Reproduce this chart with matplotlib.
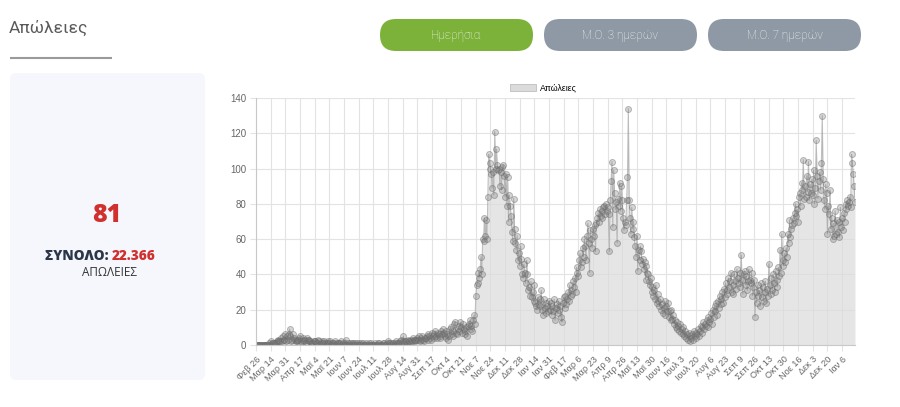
import numpy as np
import matplotlib
matplotlib.use("Agg")
import matplotlib.pyplot as plt
from matplotlib.patches import FancyBboxPatch, Rectangle

# ---------------------------------------------------------------------------
# Daily deaths, one list per month
# ---------------------------------------------------------------------------
deaths_2020_02 = [0, 0, 0, 0]
deaths_2020_03 = [0, 0, 0, 0, 0, 0, 0, 0, 0, 0, 0, 1, 0, 2, 1, 0, 1, 1, 1, 1,
                  2, 3, 2, 2, 2, 4, 2, 5, 3, 3, 6]
deaths_2020_04 = [2, 5, 3, 6, 9, 5, 2, 3, 6, 4, 3, 2, 2, 3, 3, 4, 5, 2, 1, 3,
                  4, 2, 3, 1, 4, 3, 2, 3, 2, 1]
deaths_2020_05 = [1, 1, 2, 2, 2, 1, 1, 3, 2, 0, 1, 2, 1, 1, 2, 1, 0, 1, 2, 1,
                  1, 2, 0, 1, 1, 1, 0, 2, 0, 1, 1]
deaths_2020_06 = [1, 0, 1, 2, 0, 1, 0, 1, 3, 0, 0, 1, 0, 1, 0, 1, 1, 0, 0, 1,
                  0, 1, 0, 1, 0, 0, 1, 0, 1, 0]
deaths_2020_07 = [0, 0, 1, 0, 0, 1, 0, 0, 1, 0, 0, 0, 1, 0, 0, 1, 0, 1, 0, 0,
                  0, 1, 1, 0, 0, 0, 1, 2, 1, 0, 1]
deaths_2020_08 = [0, 1, 1, 0, 1, 2, 0, 1, 1, 1, 2, 3, 1, 2, 5, 1, 2, 2, 1, 3,
                  2, 2, 1, 3, 2, 4, 3, 2, 3, 3, 4]
deaths_2020_09 = [3, 5, 2, 3, 4, 5, 3, 2, 4, 4, 5, 3, 6, 5, 4, 3, 7, 5, 4, 6,
                  8, 5, 4, 7, 6, 4, 5, 8, 6, 9]
deaths_2020_10 = [7, 5, 4, 8, 6, 3, 5, 9, 10, 6, 8, 5, 12, 13, 7, 6, 9, 8, 11, 13,
                  10, 7, 12, 9, 8, 6, 10, 5, 11, 12, 14]
deaths_2020_11 = [9, 11, 8, 14, 17, 12, 28, 34, 35, 41, 38, 43, 50, 40, 60, 59, 72, 62, 71, 60,
                  84, 108, 103, 100, 97, 89, 98, 85, 121, 100]
deaths_2020_12 = [111, 102, 99, 100, 90, 98, 88, 101, 102, 96, 84, 97, 79, 95, 70, 85, 79, 73, 64, 59,
                  83, 66, 58, 54, 62, 48, 52, 45, 56, 49, 40]
deaths_2021_01 = [38, 46, 41, 35, 48, 40, 31, 33, 28, 36, 27, 30, 25, 34, 24, 22, 20, 27, 23, 26,
                  22, 31, 20, 17, 26, 21, 24, 18, 22, 19, 25]
deaths_2021_02 = [20, 24, 17, 22, 19, 26, 14, 21, 23, 18, 25, 20, 22, 16, 13, 24, 27, 21, 28, 23,
                  26, 30, 25, 34, 28, 31, 29, 36]
deaths_2021_03 = [33, 38, 30, 44, 41, 39, 48, 52, 44, 47, 55, 50, 60, 56, 48, 62, 69, 58, 41, 65,
                  60, 55, 66, 62, 68, 53, 69, 72, 75, 70, 77]
deaths_2021_04 = [73, 76, 72, 78, 79, 74, 80, 76, 78, 74, 53, 82, 93, 104, 67, 99, 86, 77, 81, 58,
                  83, 79, 92, 76, 90, 82, 72, 65, 70, 68]
deaths_2021_05 = [82, 95, 134, 82, 72, 63, 78, 66, 70, 61, 56, 50, 62, 42, 54, 48, 56, 53, 46, 49,
                  43, 47, 37, 45, 41, 40, 36, 34, 38, 30, 33]
deaths_2021_06 = [28, 31, 26, 34, 24, 29, 25, 22, 26, 20, 23, 18, 21, 25, 17, 22, 19, 24, 16, 19,
                  14, 20, 15, 17, 12, 14, 10, 13, 9, 11]
deaths_2021_07 = [8, 12, 7, 9, 6, 10, 5, 8, 4, 6, 3, 7, 2, 5, 4, 6, 3, 8, 5, 4,
                  7, 6, 9, 5, 8, 11, 7, 10, 13, 9, 12]
deaths_2021_08 = [11, 14, 10, 16, 13, 15, 18, 12, 20, 16, 22, 19, 24, 17, 25, 21, 28, 23, 26, 30,
                  24, 32, 27, 35, 29, 31, 38, 33, 36, 41, 30]
deaths_2021_09 = [34, 29, 40, 36, 32, 43, 38, 35, 41, 33, 51, 37, 29, 40, 42, 34, 39, 31, 36, 43,
                  37, 35, 41, 28, 33, 37, 16, 30, 24, 34]
deaths_2021_10 = [28, 31, 22, 35, 27, 33, 25, 30, 36, 24, 32, 28, 46, 34, 29, 38, 31, 40, 35, 30,
                  42, 37, 33, 44, 39, 54, 41, 63, 48, 45, 52]
deaths_2021_11 = [47, 55, 50, 63, 58, 71, 61, 66, 68, 72, 69, 75, 80, 73, 77, 70, 84, 86, 79, 92,
                  88, 105, 83, 90, 84, 96, 87, 104, 82, 91]
deaths_2021_12 = [86, 94, 85, 99, 80, 89, 116, 96, 83, 93, 98, 88, 103, 130, 94, 82, 77, 91, 86, 63,
                  79, 74, 88, 66, 72, 60, 69, 62, 76, 63, 71]
deaths_2022_01 = [64, 70, 61, 78, 67, 72, 65, 75, 70, 80, 77, 82, 79, 81, 84, 78, 108, 103, 97, 90,
                  81]

deaths = np.array(
    deaths_2020_02 + deaths_2020_03 + deaths_2020_04 + deaths_2020_05 + deaths_2020_06
    + deaths_2020_07 + deaths_2020_08 + deaths_2020_09 + deaths_2020_10 + deaths_2020_11
    + deaths_2020_12 + deaths_2021_01 + deaths_2021_02 + deaths_2021_03 + deaths_2021_04
    + deaths_2021_05 + deaths_2021_06 + deaths_2021_07 + deaths_2021_08 + deaths_2021_09
    + deaths_2021_10 + deaths_2021_11 + deaths_2021_12 + deaths_2022_01
)
days = np.arange(len(deaths))

# x labels, one every 17 days starting 26 Feb 2020
TICK_STEP = 17
TICK_LABELS = ["Φεβ 26", "Μαρ 14", "Μαρ 31", "Απρ 17", "Μαϊ 4", "Μαϊ 21", "Ιουν 7",
               "Ιουν 24", "Ιουλ 11", "Ιουλ 28", "Αυγ 14", "Αυγ 31", "Σεπ 17", "Οκτ 4",
               "Οκτ 21", "Νοε 7", "Νοε 24", "Δεκ 11", "Δεκ 28", "Ιαν 14", "Ιαν 31",
               "Φεβ 17", "Μαρ 6", "Μαρ 23", "Απρ 9", "Απρ 26", "Μαϊ 13", "Μαϊ 30",
               "Ιουν 16", "Ιουλ 3", "Ιουλ 20", "Αυγ 6", "Αυγ 23", "Σεπ 9", "Σεπ 26",
               "Οκτ 13", "Οκτ 30", "Νοε 16", "Δεκ 3", "Δεκ 20", "Ιαν 6"]
Y_TICKS = [0, 20, 40, 60, 80, 100, 120, 140]

TITLE = "Απώλειες"
TOTAL_TEXT = "22.366"
BUTTONS = ["Ημερήσια", "Μ.Ο. 3 ημερών", "Μ.Ο. 7 ημερών"]

# ---------------------------------------------------------------------------
# Colours
# ---------------------------------------------------------------------------
C_GRID = "#e3e3e3"
C_TICK = "#666666"
C_FILL = (0.86, 0.86, 0.86)
C_RED = "#d1312e"
C_NAVY = "#2b3648"
C_GREEN = "#7cb23a"
C_GREY_BTN = "#8e99a5"
C_CARD = "#f5f7fc"

W, H = 900, 407
fig = plt.figure(figsize=(W / 100, H / 100), dpi=100, facecolor="white")

# pixel-space overlay for the page decorations
bg = fig.add_axes([0, 0, 1, 1], zorder=0)
bg.set_xlim(0, W)
bg.set_ylim(H, 0)
bg.axis("off")

bg.text(9, 28, TITLE, fontsize=12.5, color="#5a5a5a", family="Roboto",
        va="center", ha="left")
bg.plot([10, 112], [57.5, 57.5], color="#9a9a9a", lw=1.5, solid_capstyle="butt")

bg.add_patch(FancyBboxPatch((10, 73), 195, 307, boxstyle="round,pad=0,rounding_size=6",
                            facecolor=C_CARD, edgecolor="none"))
bg.text(107, 215, str(deaths[-1]), fontsize=18, color=C_RED, family="Open Sans",
        fontweight="heavy", ha="center", va="center")
t1 = bg.text(45, 256, "ΣΥΝΟΛΟ: ", fontsize=9.8, color=C_NAVY, family="Open Sans",
             fontweight="heavy", ha="left", va="center")
fig.canvas.draw()
bb = t1.get_window_extent().transformed(bg.transData.inverted())
bg.text(bb.x1, 256, TOTAL_TEXT, fontsize=9.8, color=C_RED, family="Open Sans",
        fontweight="heavy", ha="left", va="center")
bg.text(109, 273, "ΑΠΩΛΕΙΕΣ", fontsize=8.5, color="#333333", family="Open Sans",
        ha="center", va="center")

btn_x = [380, 544, 708]
btn_col = [C_GREEN, C_GREY_BTN, C_GREY_BTN]
for bx, col, label in zip(btn_x, btn_col, BUTTONS):
    bg.add_patch(FancyBboxPatch((bx, 19), 153, 32, boxstyle="round,pad=0,rounding_size=16",
                                facecolor=col, edgecolor="none"))
    bg.text(bx + 76.5, 35.5, label, fontsize=8.5, color="#f4f6f4", family="Roboto",
            fontweight="light", ha="center", va="center")

# ---------------------------------------------------------------------------
# Chart
# ---------------------------------------------------------------------------
x0, x1, y0, y1 = 256, 855, 345, 98
ax = fig.add_axes([x0 / W, 1 - y0 / H, (x1 - x0) / W, (y0 - y1) / H], zorder=2)
ax.set_facecolor("none")
ax.set_xlim(days[0], days[-1])
ax.set_ylim(0, 140)

ax.set_yticks(Y_TICKS)
ax.set_xticks(np.arange(0, TICK_STEP * len(TICK_LABELS), TICK_STEP))
ax.set_xticklabels(TICK_LABELS, rotation=45, ha="right", va="top",
                   rotation_mode="anchor", fontsize=6.6, color=C_TICK,
                   family="Liberation Sans")
for lbl in ax.get_yticklabels():
    lbl.set_fontsize(7)
    lbl.set_color(C_TICK)
    lbl.set_family("Liberation Sans")
ax.tick_params(axis="both", length=4, width=0.8, color=C_GRID, pad=3)
ax.grid(True, color=C_GRID, lw=0.8, zorder=0)
ax.set_axisbelow(True)
for side in ["top", "right"]:
    ax.spines[side].set_visible(False)
for side in ["left", "bottom"]:
    ax.spines[side].set_color("#c8c8c8")
    ax.spines[side].set_linewidth(0.8)

ax.fill_between(days, deaths, 0, color=C_FILL, alpha=0.7, lw=0, zorder=1)
ax.plot(days, deaths, color=(0.55, 0.55, 0.55, 0.55), lw=0.8, zorder=2,
        marker="o", ms=4.3, mfc=(0.48, 0.48, 0.48, 0.3), mec=(0.42, 0.42, 0.42, 0.45), mew=0.7)

proxy = Rectangle((0, 0), 1, 1, facecolor=C_FILL, edgecolor="#c4c4c4", lw=0.7)
ax.legend([proxy], [TITLE], loc="lower center", bbox_to_anchor=(0.48, 1.0),
          frameon=False, handlelength=3.0, handleheight=0.8,
          borderaxespad=0.2, handletextpad=0.4,
          prop={"family": "Liberation Sans", "size": 6.3})

fig.savefig("out.png", dpi=100)
